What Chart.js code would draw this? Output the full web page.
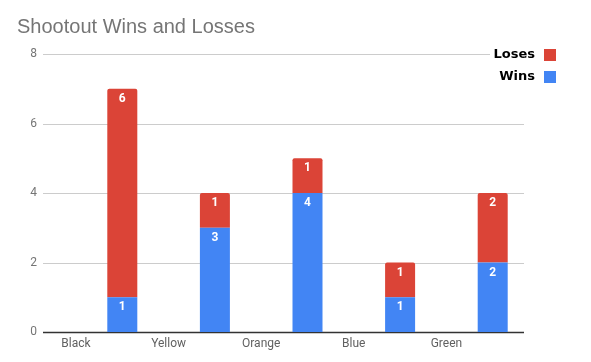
<!DOCTYPE html>
<html>
<head>
<meta charset="utf-8">
<script src="https://cdn.jsdelivr.net/npm/chart.js@4.4.1/dist/chart.umd.min.js"></script>
<style>
  html, body { margin: 0; padding: 0; background: #fff; overflow: hidden; }
  canvas { display: block; }
</style>
</head>
<body>
<canvas id="shootoutChart" width="591" height="362"></canvas>
<script>
// shootout wins / losses — stacked columns
const teams = ["Black", "Yellow", "Orange", "Blue", "Green"];
const wins = [1, 3, 4, 1, 2];
const loses = [6, 1, 1, 1, 2];
const yTicks = [0, 2, 4, 6, 8];

const RED = '#db4437';
const BLUE = '#4285f4';

// horizontal grid lines run a bit wider than the plot, like the sheets export
const sheetGrid = {
    id: 'sheetGrid',
    beforeDatasetsDraw(chart) {
        const { ctx, scales: { y } } = chart;
        ctx.save();
        yTicks.forEach(v => {
            const py = Math.round(y.getPixelForValue(v)) + 0.5;
            ctx.beginPath();
            ctx.strokeStyle = v === 0 ? '#333333' : '#cccccc';
            ctx.lineWidth = v === 0 ? 1.5 : 1;
            ctx.moveTo(43, py);
            ctx.lineTo(524, py);
            ctx.stroke();
        });
        ctx.restore();
    }
};

// white value labels near the top of each segment
const segmentLabels = {
    id: 'segmentLabels',
    afterDatasetsDraw(chart) {
        const { ctx } = chart;
        ctx.save();
        ctx.font = 'bold 12px Roboto';
        ctx.fillStyle = '#ffffff';
        ctx.textAlign = 'center';
        ctx.textBaseline = 'middle';
        chart.data.datasets.forEach((ds, di) => {
            chart.getDatasetMeta(di).data.forEach((bar, i) => {
                if (!ds.data[i]) return;
                ctx.fillText(String(ds.data[i]), bar.x, bar.y + 10);
            });
        });
        ctx.restore();
    }
};

// legend on the right: text first, swatch after it
const sideLegend = {
    id: 'sideLegend',
    afterDraw(chart) {
        const { ctx } = chart;
        const items = [
            { text: 'Loses', color: RED, y: 55 },
            { text: 'Wins', color: BLUE, y: 77 }
        ];
        ctx.save();
        ctx.font = 'bold 13px "DejaVu Sans"';
        ctx.textAlign = 'right';
        ctx.textBaseline = 'middle';
        items.forEach(it => {
            ctx.fillStyle = '#ffffff';
            ctx.fillRect(490, it.y - 9, 48, 18);
            ctx.fillStyle = '#000000';
            ctx.fillText(it.text, 535, it.y);
            ctx.fillStyle = it.color;
            ctx.fillRect(544, it.y - 6, 12, 12);
        });
        ctx.restore();
    }
};

const ctx = document.getElementById('shootoutChart').getContext('2d');

new Chart(ctx, {
    type: 'bar',
    data: {
        labels: teams,
        datasets: [
            {
                label: 'Wins',
                data: wins,
                backgroundColor: BLUE,
                borderWidth: 0,
                borderSkipped: false,
                barPercentage: 0.324,
                categoryPercentage: 1
            },
            {
                label: 'Loses',
                data: loses,
                backgroundColor: RED,
                borderWidth: 0,
                borderRadius: { topLeft: 2, topRight: 2, bottomLeft: 0, bottomRight: 0 },
                borderSkipped: false,
                barPercentage: 0.324,
                categoryPercentage: 1
            }
        ]
    },
    options: {
        responsive: false,
        animation: false,
        layout: { padding: { left: 17, right: 52, top: 0, bottom: 0 } },
        scales: {
            x: {
                stacked: true,
                grid: { display: false, drawTicks: false },
                border: { display: false },
                ticks: {
                    font: { family: 'Roboto', size: 12 },
                    color: '#616161',
                    padding: 5,
                    labelOffset: -46.3,
                    autoSkip: false,
                    maxRotation: 0
                },
                afterFit: (scale) => { scale.height = 30; }
            },
            y: {
                stacked: true,
                min: 0,
                max: 8,
                grid: { display: false, drawTicks: false },
                border: { display: false },
                ticks: {
                    stepSize: 2,
                    font: { family: 'Roboto', size: 12 },
                    color: '#757575',
                    padding: 39
                },
                // the big tick padding also pads top/bottom; keep only half a label
                afterFit: (scale) => {
                    scale.width = 59;
                    scale.paddingTop = 7;
                    scale.paddingBottom = 7;
                }
            }
        },
        plugins: {
            legend: { display: false },
            tooltip: { enabled: false },
            title: {
                display: true,
                text: 'Shootout Wins and Losses',
                align: 'start',
                color: '#757575',
                font: { family: '"Liberation Sans"', size: 20, weight: 'normal' },
                padding: { top: 15, bottom: 15 }
            }
        }
    },
    plugins: [sheetGrid, segmentLabels, sideLegend]
});
</script>
</body>
</html>
